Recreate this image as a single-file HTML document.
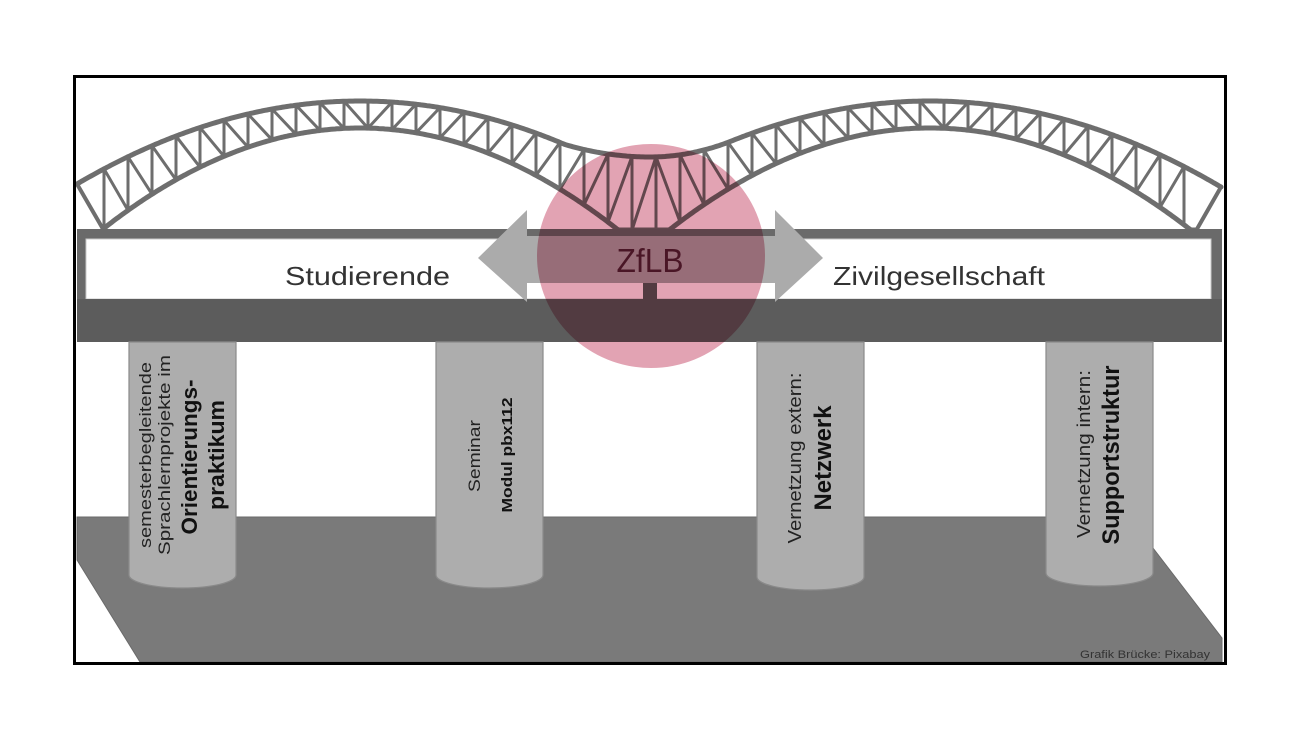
<!DOCTYPE html>
<html><head><meta charset="utf-8"><style>
html,body{margin:0;padding:0;background:#fff;width:1300px;height:731px;overflow:hidden}
svg{display:block}
text{font-family:"Liberation Sans",sans-serif}
</style></head><body>
<svg id="s" width="1300" height="731" viewBox="0 0 1300 731" xmlns="http://www.w3.org/2000/svg">
<rect x="0" y="0" width="1300" height="731" fill="#fff"/>
<g id="truss" stroke="#6e6e6e" fill="none" stroke-linecap="round" stroke-linejoin="round"></g>
<!-- deck -->
<rect x="77" y="229" width="1145" height="10" fill="#6a6a6a"/>
<rect x="77" y="238" width="9" height="62" fill="#6a6a6a"/>
<rect x="1211" y="238" width="11" height="62" fill="#6a6a6a"/>
<rect x="86" y="239" width="1125" height="60" fill="#fff" stroke="#c8c8c8" stroke-width="1"/>
<rect x="77" y="299" width="1145" height="43" fill="#5c5c5c"/>
<!-- arrow -->
<polygon points="478,258 527,210 527,235 775,235 775,210 823,258 775,302 775,283 527,283 527,302" fill="#ababab"/>
<rect x="527" y="229" width="248" height="7" fill="#6a6a6a"/>
<rect x="643" y="283" width="14" height="16" fill="#5c5c5c"/>
<!-- ground -->
<polygon points="77,517 1153,517 1153,548 1222,638 1222,662 140,662 77,560" fill="#7a7a7a" stroke="#6a6a6a" stroke-width="1"/>
<!-- pillars -->
<g fill="#adadad" stroke="#8a8a8a" stroke-width="1.2">
<path d="M129,342 V575 A53.5,13 0 0 0 236,575 V342 Z"/>
<path d="M436,342 V575 A53.5,13 0 0 0 543,575 V342 Z"/>
<path d="M757,342 V577 A53.5,13 0 0 0 864,577 V342 Z"/>
<path d="M1046,342 V573 A53.5,13 0 0 0 1153,573 V342 Z"/>
</g>
<g fill="#222">
<text transform="translate(151,455) rotate(-90)" text-anchor="middle" font-size="17" textLength="186" lengthAdjust="spacingAndGlyphs">semesterbegleitende</text>
<text transform="translate(170,455) rotate(-90)" text-anchor="middle" font-size="17" textLength="200" lengthAdjust="spacingAndGlyphs">Sprachlernprojekte im</text>
<text transform="translate(197,457) rotate(-90)" text-anchor="middle" font-size="22" font-weight="bold" fill="#111" textLength="155" lengthAdjust="spacingAndGlyphs">Orientierungs-</text>
<text transform="translate(224,455) rotate(-90)" text-anchor="middle" font-size="22" font-weight="bold" fill="#111" textLength="110" lengthAdjust="spacingAndGlyphs">praktikum</text>
<text transform="translate(480,456) rotate(-90)" text-anchor="middle" font-size="17" textLength="72" lengthAdjust="spacingAndGlyphs">Seminar</text>
<text transform="translate(512,455) rotate(-90)" text-anchor="middle" font-size="15" font-weight="bold" fill="#111" textLength="115" lengthAdjust="spacingAndGlyphs">Modul pbx112</text>
<text transform="translate(801,458) rotate(-90)" text-anchor="middle" font-size="18" textLength="171" lengthAdjust="spacingAndGlyphs">Vernetzung extern:</text>
<text transform="translate(831,458) rotate(-90)" text-anchor="middle" font-size="24" font-weight="bold" fill="#111" textLength="105" lengthAdjust="spacingAndGlyphs">Netzwerk</text>
<text transform="translate(1090,454) rotate(-90)" text-anchor="middle" font-size="18" textLength="168" lengthAdjust="spacingAndGlyphs">Vernetzung intern:</text>
<text transform="translate(1119,455) rotate(-90)" text-anchor="middle" font-size="24" font-weight="bold" fill="#111" textLength="179" lengthAdjust="spacingAndGlyphs">Supportstruktur</text>
</g>
<text x="285" y="285" font-size="26" fill="#333" textLength="165" lengthAdjust="spacingAndGlyphs">Studierende</text>
<text x="833" y="285" font-size="26" fill="#333" textLength="212" lengthAdjust="spacingAndGlyphs">Zivilgesellschaft</text>
<text x="1080" y="658" font-size="11" fill="#333" textLength="130" lengthAdjust="spacingAndGlyphs">Grafik Brücke: Pixabay</text>
<!-- circle -->
<ellipse cx="651" cy="256" rx="114" ry="112" fill="#e2a3b3" style="mix-blend-mode:multiply"/>
<text x="650" y="272" font-size="33" fill="#4a1626" text-anchor="middle" textLength="67" lengthAdjust="spacingAndGlyphs">ZfLB</text>
<!-- frame -->
<rect x="74.5" y="76.5" width="1151" height="587" fill="none" stroke="#000" stroke-width="3"/>
</svg>
<script>
(function(){
var NS="http://www.w3.org/2000/svg";
var g=document.getElementById("truss");
function TL(x){return 101+0.001036*(x-360)*(x-360);}
function TR(x){return 101+0.001016*(x-930)*(x-930);}
var yl=TL(565), yr=TR(735), mid=157;
function top(x){
 if(x<565)return TL(x);
 if(x>735)return TR(x);
 if(x<=650){var t=(650-x)/85;return mid+(yl-mid)*t*t;}
 var t2=(x-650)/85;return mid+(yr-mid)*t2*t2;
}
function BL(x){return 128+0.00153*(x-360)*(x-360);}
function BR(x){return 128+0.0015*(x-930)*(x-930);}
function bot(x){
 var v = x<650 ? BL(x) : BR(x);
 return Math.min(230,v);
}
function line(x1,y1,x2,y2,w){var l=document.createElementNS(NS,"line");l.setAttribute("x1",x1);l.setAttribute("y1",y1.toFixed(1));l.setAttribute("x2",x2);l.setAttribute("y2",y2.toFixed(1));l.setAttribute("stroke-width",w);g.appendChild(l);}
function poly(F,a,b,w){var d="";for(var x=a;x<=b;x+=2){d+=(d?"L":"M")+x+","+F(x).toFixed(1);}d+="L"+b+","+F(b).toFixed(1);var p=document.createElementNS(NS,"path");p.setAttribute("d",d);p.setAttribute("stroke-width",w);g.appendChild(p);}
poly(top,77,1221,5);
poly(bot,103,1197,5);
line(77,top(77),103,229,4);line(1221,top(1221),1197,229,4);
var xs=[];for(var x=104;x<=1196;x+=24)xs.push(x);
for(var i=0;i<xs.length;i++){
 var x=xs[i];
 line(x,top(x),x,bot(x),3);
 if(i+1<xs.length){var x2=xs[i+1];
  var leftSide=(x<360)||(x>=650&&x<930);
  if(leftSide)line(x,top(x),x2,bot(x2),3);else line(x,bot(x),x2,top(x2),3);
 }
}
})();
</script>
</body></html>
